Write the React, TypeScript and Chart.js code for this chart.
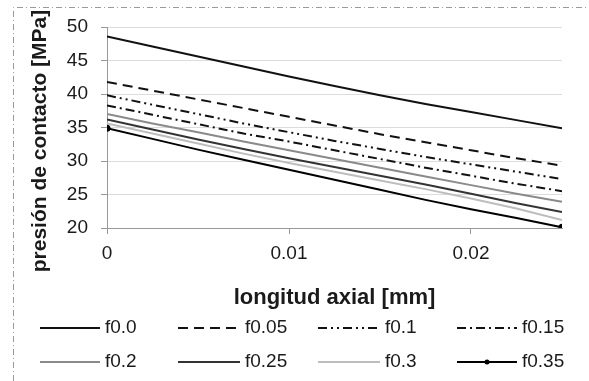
import React, { useEffect, useRef } from 'react';
import { Chart, registerables } from 'chart.js';

Chart.register(...registerables);

// ---- data ----
const xValues = [0, 0.0025, 0.005, 0.0075, 0.01, 0.0125, 0.015, 0.0175, 0.02, 0.0225, 0.025];
const seriesNames = ['f0.0', 'f0.05', 'f0.1', 'f0.15', 'f0.2', 'f0.25', 'f0.3', 'f0.35'];
const f00 = [48.6, 47.1, 45.6, 44.1, 42.6, 41.2, 39.8, 38.5, 37.3, 36.1, 34.9];
const f005 = [41.8, 40.5, 39.2, 37.9, 36.6, 35.3, 34.0, 32.8, 31.6, 30.4, 29.3];
const f01 = [39.8, 38.4, 37.0, 35.6, 34.3, 33.0, 31.8, 30.6, 29.5, 28.4, 27.3];
const f015 = [38.3, 36.9, 35.5, 34.1, 32.9, 31.6, 30.3, 29.0, 27.8, 26.6, 25.5];
const f02 = [37.0, 35.6, 34.3, 32.9, 31.6, 30.3, 29.0, 27.7, 26.4, 25.1, 23.9];
const f025 = [36.2, 34.7, 33.2, 31.8, 30.4, 29.1, 27.8, 26.5, 25.1, 23.7, 22.4];
const f03 = [35.6, 34.1, 32.6, 31.1, 29.7, 28.4, 27.1, 25.8, 24.4, 22.9, 21.2];
const f035 = [34.9, 33.3, 31.7, 30.2, 28.7, 27.2, 25.7, 24.2, 22.8, 21.5, 20.1];
const seriesValues = [f00, f005, f01, f015, f02, f025, f03, f035];

const xTickValues = [0, 0.01, 0.02];
const xTickLabels = ['0', '0.01', '0.02'];
const yTickValues = [20, 25, 30, 35, 40, 45, 50];
const yTickLabels = ['20', '25', '30', '35', '40', '45', '50'];
const xTitle = 'longitud axial [mm]';
const yTitle = 'presión de contacto [MPa]';

// ---- styles ----
const seriesStyles = [
  { color: '#111111', dash: [] as number[], point: 0 },
  { color: '#111111', dash: [10, 6], point: 0 },
  { color: '#111111', dash: [9, 4, 2, 4, 2, 4], point: 0 },
  { color: '#111111', dash: [9, 4, 2, 4], point: 0 },
  { color: '#8a8a8a', dash: [], point: 0 },
  { color: '#333333', dash: [], point: 0 },
  { color: '#bdbdbd', dash: [], point: 0 },
  { color: '#000000', dash: [], point: 2.5 },
];

const FONT = "'Liberation Sans', Arial, sans-serif";

const decorPlugin = {
  id: 'decor',
  afterDraw(chart: any) {
    const ctx = chart.ctx as CanvasRenderingContext2D;
    const area = chart.chartArea;
    ctx.save();
    // outer dash-dot border
    ctx.strokeStyle = '#9a9a9a';
    ctx.lineWidth = 1;
    ctx.setLineDash([6, 3, 1, 3]);
    ctx.beginPath();
    ctx.moveTo(13.5, 381);
    ctx.lineTo(13.5, 7.5);
    ctx.lineTo(589, 7.5);
    ctx.stroke();
    ctx.setLineDash([]);

    // titles
    ctx.fillStyle = '#1a1a1a';
    ctx.font = `bold 22px ${FONT}`;
    ctx.textAlign = 'center';
    ctx.textBaseline = 'middle';
    ctx.fillText(xTitle, (area.left + area.right) / 2, 298);
    ctx.font = `bold 21px ${FONT}`;
    ctx.save();
    ctx.translate(40, 141);
    ctx.rotate(-Math.PI / 2);
    ctx.fillText(yTitle, 0, 0);
    ctx.restore();

    // legend
    const cols = [
      { x1: 40, x2: 100, tx: 105 },
      { x1: 178, x2: 240, tx: 245 },
      { x1: 318, x2: 380, tx: 385 },
      { x1: 457, x2: 517, tx: 522 },
    ];
    const rows = [328, 362];
    ctx.font = `19px ${FONT}`;
    ctx.textAlign = 'left';
    ctx.textBaseline = 'middle';
    chart.data.datasets.forEach((ds: any, i: number) => {
      const c = cols[i % 4];
      const y = rows[Math.floor(i / 4)];
      ctx.strokeStyle = ds.borderColor;
      ctx.lineWidth = 2;
      ctx.setLineDash(ds.borderDash || []);
      ctx.beginPath();
      ctx.moveTo(c.x1, y);
      ctx.lineTo(c.x2, y);
      ctx.stroke();
      ctx.setLineDash([]);
      if (seriesStyles[i].point > 0) {
        ctx.fillStyle = ds.borderColor;
        ctx.beginPath();
        ctx.arc((c.x1 + c.x2) / 2, y, 2.5, 0, Math.PI * 2);
        ctx.fill();
      }
      ctx.fillStyle = '#1a1a1a';
      ctx.fillText(ds.label, c.tx, y);
    });
    ctx.restore();
  },
};

export default function App() {
  const ref = useRef<HTMLCanvasElement | null>(null);
  useEffect(() => {
    if (!ref.current) return;
    const datasets = seriesNames.map((name, i) => ({
      label: name,
      data: xValues.map((x, j) => ({ x, y: seriesValues[i][j] })),
      borderColor: seriesStyles[i].color,
      backgroundColor: seriesStyles[i].color,
      borderDash: seriesStyles[i].dash,
      borderWidth: 2,
      pointRadius: xValues.map((_, j) => (j === 0 || j === xValues.length - 1 ? seriesStyles[i].point : 0)),
      pointHoverRadius: 0,
      tension: 0,
      fill: false,
    }));
    const chart = new Chart(ref.current, {
      type: 'line',
      data: { datasets },
      plugins: [decorPlugin],
      options: {
        animation: false,
        responsive: false,
        maintainAspectRatio: false,
        devicePixelRatio: 1,
        layout: { padding: { left: 13, top: 27, right: 27, bottom: 0 } },
        plugins: { legend: { display: false }, tooltip: { enabled: false }, title: { display: false } },
        scales: {
          x: {
            type: 'linear',
            min: 0,
            max: 0.025,
            afterFit: (s: any) => { s.height = 381 - 228; },
            afterBuildTicks: (s: any) => { s.ticks = xTickValues.map((v) => ({ value: v })); },
            ticks: {
              callback: (v: any) => { const k = xTickValues.indexOf(Number(v)); return k >= 0 ? xTickLabels[k] : ''; },
              font: { family: FONT, size: 19 },
              color: '#1a1a1a',
              padding: 8,
              maxRotation: 0,
            },
            grid: { drawOnChartArea: false, drawTicks: true, tickLength: 6, tickColor: '#999999' },
            border: { display: true, color: '#999999', width: 1 },
          },
          y: {
            type: 'linear',
            min: 20,
            max: 50,
            afterFit: (s: any) => { s.width = 107 - 13; },
            afterBuildTicks: (s: any) => { s.ticks = yTickValues.map((v) => ({ value: v })); },
            ticks: {
              callback: (v: any) => { const k = yTickValues.indexOf(Number(v)); return k >= 0 ? yTickLabels[k] : ''; },
              font: { family: FONT, size: 19 },
              color: '#1a1a1a',
              padding: 13,
            },
            grid: { color: '#dcdcdc', lineWidth: 1, drawTicks: true, tickLength: 6, tickColor: '#999999' },
            border: { display: true, color: '#999999', width: 1 },
          },
        },
      },
    });
    return () => chart.destroy();
  }, []);
  return (
    <div style={{ position: 'fixed', left: 0, top: 0, width: 589, height: 381, background: '#ffffff' }}>
      <canvas ref={ref} width={589} height={381} style={{ width: 589, height: 381, display: 'block' }} />
    </div>
  );
}
